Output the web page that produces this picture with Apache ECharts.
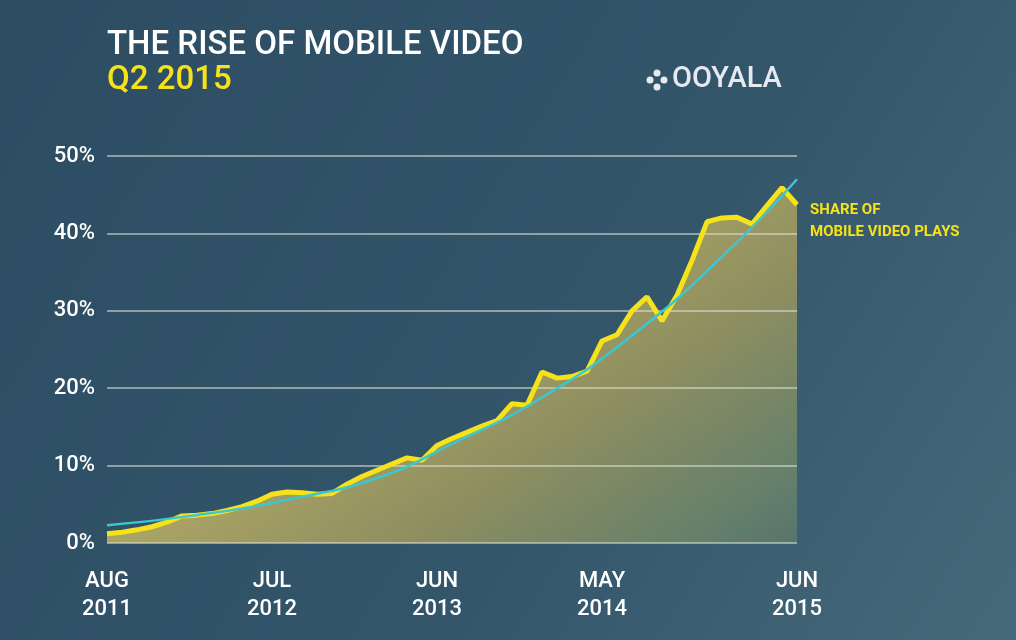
<!DOCTYPE html>
<html><head><meta charset="utf-8">
<script src="https://cdn.jsdelivr.net/npm/echarts@6/dist/echarts.min.js"></script>
<style>html,body{margin:0;padding:0;background:#2f5064}#c{width:1016px;height:640px}</style>
</head><body><div id="c"></div>
<script>
const mobileShare = [1.2,1.4,1.7,2.1,2.7,3.5,3.6,3.8,4.2,4.7,5.4,6.3,6.6,6.5,6.3,6.4,7.6,8.6,9.4,10.2,11.0,10.7,12.6,13.5,14.3,15.1,15.8,18.0,17.8,22.1,21.3,21.5,22.2,26.1,26.9,30.0,31.8,28.7,32.0,36.5,41.5,42.0,42.1,41.2,43.6,45.9,43.7];
const tickLabels = {0:'AUG\n2011',11:'JUL\n2012',22:'JUN\n2013',33:'MAY\n2014',46:'JUN\n2015'};
const categories = mobileShare.map((_, i) => tickLabels[i] || '');
const trendPoints = [[0,2.3],[6,3.6],[12,5.6],[18,8.4],[23,12.8],[29,18.8],[35,26.8],[41,37.0],[46,47.0]];
const yTicks = [0,10,20,30,40,50];
const titleText = 'THE RISE OF MOBILE VIDEO';
const subtitleText = 'Q2 2015';
const brandText = 'OOYALA';
const noteText = 'SHARE OF\nMOBILE VIDEO PLAYS';

const chart = echarts.init(document.getElementById('c'));
chart.setOption({
  backgroundColor: new echarts.graphic.LinearGradient(0,0,1,1,[{offset:0,color:'#2c4c62'},{offset:0.6,color:'#33566b'},{offset:1,color:'#46697a'}]),
  animation:false,
  grid:{left:107,right:219,top:156,bottom:97},
  xAxis:{type:'category',data:categories,boundaryGap:false,
    axisLine:{show:false},axisTick:{show:false},splitLine:{show:false},
    axisLabel:{interval:0,color:'#fff',fontFamily:'Roboto',fontWeight:500,fontSize:22,lineHeight:28,margin:24}},
  yAxis:{type:'value',min:0,max:50,interval:10,z:2,
    axisLine:{show:false},axisTick:{show:false},
    splitLine:{lineStyle:{color:'rgba(220,225,215,0.55)',width:2}},
    axisLabel:{formatter:v=>yTicks.includes(v)?v+'%':'',color:'#fff',fontFamily:'Roboto',fontWeight:500,fontSize:22,margin:12}},
  series:[
    {type:'line',data:mobileShare,symbol:'none',z:1,silent:true,
      lineStyle:{width:0},
      areaStyle:{origin:'start',opacity:1,color:new echarts.graphic.LinearGradient(560,180,820,560,[{offset:0,color:'#b3aa66'},{offset:0.45,color:'#8f8f60'},{offset:0.8,color:'#66806a'},{offset:1,color:'#4f706e'}],true)}},
    {type:'line',data:mobileShare,symbol:'none',z:3,
      lineStyle:{color:'#f5e21a',width:5}},
    {type:'line',data:trendPoints,smooth:true,symbol:'none',z:4,
      lineStyle:{color:'#3cc6d0',width:2.5}}
  ],
  graphic:[
    {type:'text',left:107,top:29,style:{text:titleText,fill:'#fff',font:'500 33px Roboto'}},
    {type:'text',left:107,top:64,style:{text:subtitleText,fill:'#f5e21a',font:'500 33px Roboto'}},
    {type:'text',left:672,top:65,style:{text:brandText,fill:'#e6eaee',font:'500 29px Roboto'}},
    {type:'circle',shape:{cx:650,cy:80,r:3.5},style:{fill:'#e6eaee'}},
    {type:'circle',shape:{cx:657,cy:73,r:3.5},style:{fill:'#e6eaee'}},
    {type:'circle',shape:{cx:664,cy:80,r:3.5},style:{fill:'#e6eaee'}},
    {type:'circle',shape:{cx:657,cy:87,r:3.5},style:{fill:'#e6eaee'}},
    {type:'text',left:810,top:199,style:{text:noteText,fill:'#f5e21a',font:'bold 15px Roboto',lineHeight:22}}
  ]
});
</script></body></html>
